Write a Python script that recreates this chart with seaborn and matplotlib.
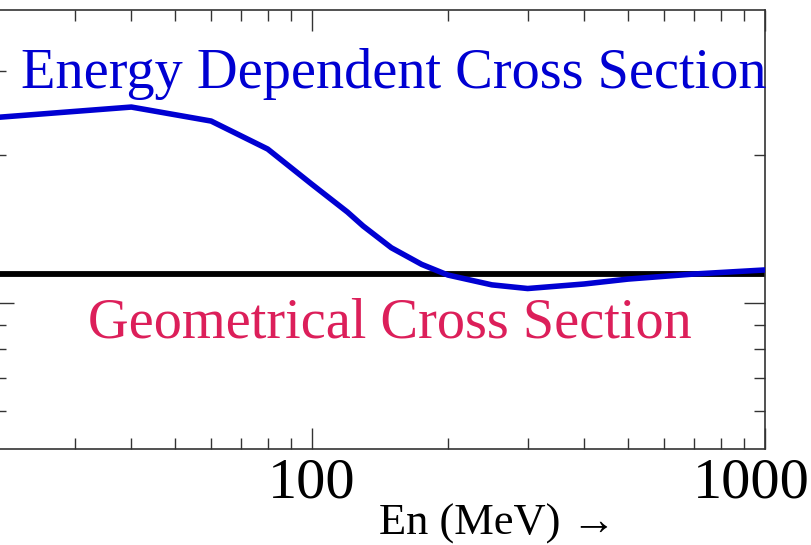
import numpy as np
import pandas as pd
import matplotlib
matplotlib.use("Agg")
import matplotlib.pyplot as plt
import matplotlib.transforms as mtransforms
from matplotlib.ticker import FixedLocator, NullFormatter
import seaborn as sns

# ---- data ----
energy_mev = [20, 40, 60, 80, 100, 120, 130, 150, 175, 200, 250, 300, 400, 500, 700, 1000]
ratio_energy_dep = [1.894, 1.954, 1.874, 1.714, 1.514, 1.354, 1.274, 1.150, 1.055, 0.994,
                    0.938, 0.917, 0.943, 0.971, 1.000, 1.023]
geometric_level = 1.0
x_tick_values = [100, 1000]
x_tick_labels = ["100", "1000"]
y_major_ticks = [0.834]
y_minor_left = [0.217, 0.406, 0.571, 0.709, 1.68, 2.16]
y_minor_right = [0.217, 0.406, 0.571, 0.709, 1.68]

df = pd.DataFrame({"E": energy_mev, "ratio": ratio_energy_dep})

sns.set_theme(style="white")
plt.rcParams["font.family"] = ["Liberation Serif", "DejaVu Serif"]

W, H = 811, 545
fig = plt.figure(figsize=(W / 100, H / 100), dpi=100)
left_px, right_px, top_px, bot_px = -5, 764.5, 10, 449
ax = fig.add_axes([left_px / W, (H - bot_px) / H, (right_px - left_px) / W, (bot_px - top_px) / H])

ax.axhline(geometric_level, color="black", lw=4.2, zorder=2)
sns.lineplot(data=df, x="E", y="ratio", ax=ax, color="#0000D2", lw=4.0, zorder=3)

ax.set_xscale("log")
ax.set_xlim(20, 1000)
ax.set_ylim(0, 439 / 175)

ax.set_xticks(x_tick_values)
ax.set_xticklabels(x_tick_labels, fontsize=42, color="black")
ax.xaxis.set_minor_locator(FixedLocator([30, 40, 50, 60, 70, 80, 90, 200, 300, 400, 500, 600, 700, 800, 900]))
ax.xaxis.set_minor_formatter(NullFormatter())
ax.tick_params(axis="x", which="major", direction="in", length=15, width=1, top=True, bottom=True,
               pad=6, color="#333333", labelcolor="black")
ax.tick_params(axis="x", which="minor", direction="in", length=8, width=1, top=True, bottom=True,
               color="#333333")
# nudge last label slightly left like the reference
lbls = ax.get_xticklabels()
offset = mtransforms.ScaledTranslation(-13 / 100, 0, fig.dpi_scale_trans)
lbls[-1].set_transform(lbls[-1].get_transform() + offset)

ax.set_yticks(y_major_ticks)
ax.yaxis.set_minor_locator(FixedLocator(y_minor_left))
ax.set_yticklabels([])
ax.tick_params(axis="y", which="major", direction="in", length=14, width=1, left=True, right=False,
               color="#333333")
ax.tick_params(axis="y", which="minor", direction="in", length=8, width=1, left=True, right=False,
               color="#333333")

ax2 = ax.twinx()
ax2.set_ylim(ax.get_ylim())
ax2.set_yticks(y_major_ticks)
ax2.yaxis.set_minor_locator(FixedLocator(y_minor_right))
ax2.set_yticklabels([])
ax2.tick_params(axis="y", which="major", direction="in", length=15, width=1, right=True, color="#333333")
ax2.tick_params(axis="y", which="minor", direction="in", length=8, width=1, right=True, color="#333333")
for s in ax2.spines.values():
    s.set_visible(False)

for name, s in ax.spines.items():
    s.set_color("#333333")
    s.set_linewidth(1.2)
ax.spines["left"].set_visible(False)

ax.set_xlabel("")
ax.set_ylabel("")

ax.text(0.518, 0.855, "Energy Dependent Cross Section", transform=ax.transAxes,
        color="#0000D2", fontsize=40.6, ha="center", va="center")
ax.text(0.513, 0.285, "Geometrical Cross Section", transform=ax.transAxes,
        color="#DC1F5A", fontsize=40.6, ha="center", va="center")

fig.text(498 / W, 1 - 524 / H, "En (MeV) →", color="black", fontsize=32,
         ha="center", va="center")

fig.savefig("out.png", dpi=100)
